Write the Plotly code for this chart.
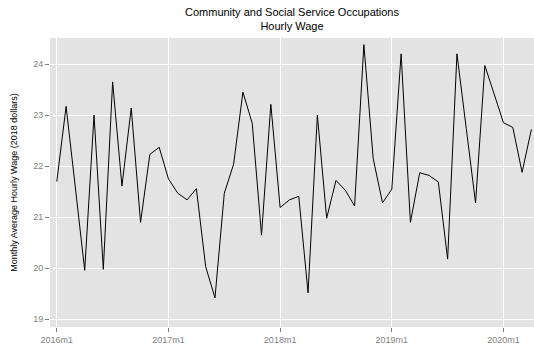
import plotly.graph_objects as go

periods = [f"{y}m{m}" for y in range(2016, 2021) for m in range(1, 13)][:52]
wages = [21.70, 23.17, 21.57, 19.96, 23.00, 19.98, 23.65, 21.61, 23.14, 20.90, 22.23, 22.37,
         21.75, 21.47, 21.34, 21.56, 20.03, 19.42, 21.47, 22.04, 23.45, 22.84, 20.65, 23.21,
         21.19, 21.34, 21.41, 19.52, 23.00, 20.98, 21.72, 21.53, 21.22, 24.38, 22.15, 21.28,
         21.55, 24.20, 20.90, 21.87, 21.82, 21.69, 20.18, 24.20, 22.74, 21.28, 23.97, 23.41,
         22.85, 22.76, 21.88, 22.72]
tick_labels = ["2016m1", "2017m1", "2018m1", "2019m1", "2020m1"]
y_ticks = [19, 20, 21, 22, 23, 24]
title_text = "Community and Social Service Occupations<br>Hourly Wage"

x_idx = [periods.index(p) for p in periods]
tick_idx = [periods.index(t) for t in tick_labels]

fig = go.Figure()
fig.add_trace(go.Scatter(x=x_idx, y=wages, mode="lines",
                         line=dict(color="black", width=1), hoverinfo="skip"))

font = "Liberation Sans, Arial, sans-serif"
fig.update_layout(
    width=534, height=349,
    margin=dict(l=50, r=0, t=38, b=22),
    paper_bgcolor="white", plot_bgcolor="#E3E3E3",
    showlegend=False,
    font=dict(family=font, size=9, color="#7F7F7F"),
    xaxis=dict(range=[-0.73, 51.28], tickvals=tick_idx, ticktext=tick_labels,
               showgrid=True, gridcolor="white", gridwidth=1,
               ticks="outside", ticklen=4, tickcolor="#7F7F7F", tickwidth=1,
               zeroline=False, showline=False, fixedrange=True,
               tickfont=dict(size=9, color="#7F7F7F")),
    yaxis=dict(range=[18.85, 24.51], tickvals=y_ticks,
               showgrid=True, gridcolor="white", gridwidth=1,
               ticks="outside", ticklen=4, tickcolor="#7F7F7F", tickwidth=1,
               zeroline=False, showline=False, fixedrange=True,
               tickfont=dict(size=9, color="#7F7F7F"),
               title=dict(text="Monthly Average Hourly Wage (2018 dollars)",
                          font=dict(family=font, size=9, color="black"), standoff=14)),
    annotations=[dict(text=title_text, xref="paper", yref="paper", x=0.5, y=1,
                      xanchor="center", yanchor="bottom", yshift=4, showarrow=False,
                      font=dict(family=font, size=11, color="black"))],
)

fig.write_html("out.html", config={"displayModeBar": False, "responsive": False},
               post_script="document.body.style.margin='0';document.body.style.overflow='hidden';")
